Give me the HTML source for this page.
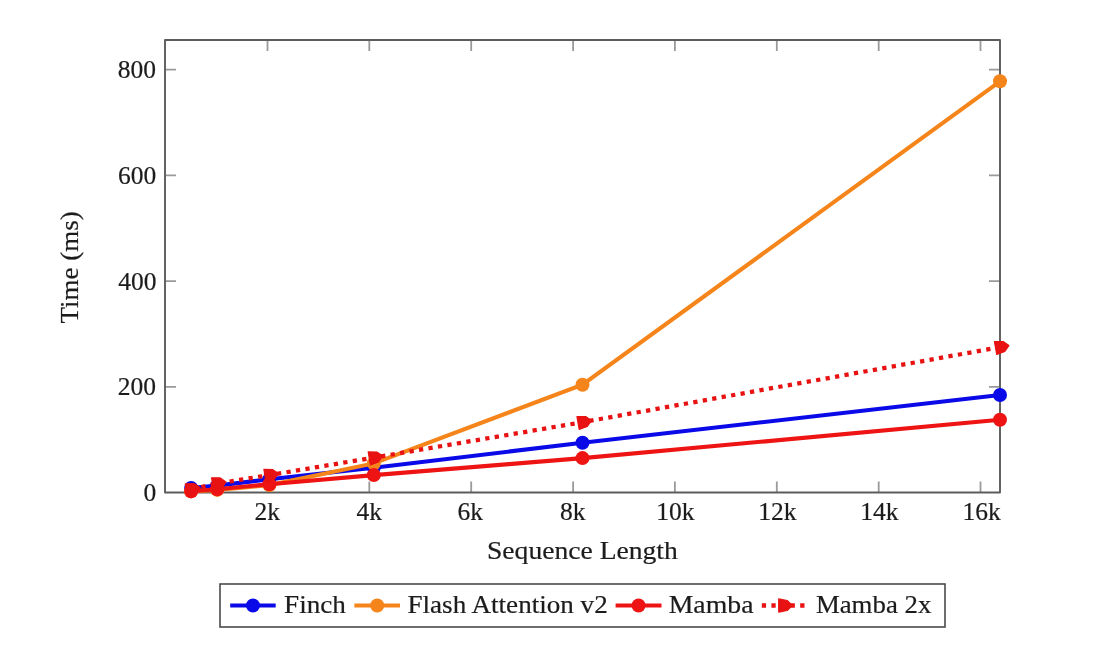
<!DOCTYPE html>
<html><head><meta charset="utf-8"><style>
html,body{margin:0;padding:0;background:#fff;width:1098px;height:659px;overflow:hidden}
svg{display:block;filter:blur(0.35px)}
text{font-family:"Liberation Serif",serif;fill:#1c1c1c;stroke:#1c1c1c;stroke-width:0.2px}
</style></head><body>
<svg width="1098" height="659" viewBox="0 0 1098 659">
<rect x="0" y="0" width="1098" height="659" fill="#fff"/>
<rect x="220" y="584" width="725" height="43" fill="#fff" stroke="#4a4a4a" stroke-width="1.6"/>
<path d="M267.5 492.5V481.5M267.5 40.0V51.0M369.3 492.5V481.5M369.3 40.0V51.0M471.2 492.5V481.5M471.2 40.0V51.0M573.1 492.5V481.5M573.1 40.0V51.0M674.9 492.5V481.5M674.9 40.0V51.0M776.8 492.5V481.5M776.8 40.0V51.0M878.7 492.5V481.5M878.7 40.0V51.0M980.5 492.5V481.5M980.5 40.0V51.0M165.0 386.8H176.0M1000.0 386.8H989.0M165.0 281.1H176.0M1000.0 281.1H989.0M165.0 175.4H176.0M1000.0 175.4H989.0M165.0 69.7H176.0M1000.0 69.7H989.0" stroke="#9a9a9a" stroke-width="1.8" fill="none"/>
<text x="254.47" y="519.70" font-size="25.5">2k</text>
<text x="356.53" y="519.70" font-size="25.5">4k</text>
<text x="457.60" y="519.70" font-size="25.5">6k</text>
<text x="560.06" y="519.80" font-size="25.5">8k</text>
<text x="656.13" y="519.50" font-size="25.5">10k</text>
<text x="758.30" y="519.80" font-size="25.5">12k</text>
<text x="860.16" y="519.80" font-size="25.5">14k</text>
<text x="962.43" y="519.90" font-size="25.5">16k</text>
<text x="143.45" y="501.20" font-size="25.5">0</text>
<text x="117.75" y="395.30" font-size="25.5">200</text>
<text x="118.35" y="289.60" font-size="25.5">400</text>
<text x="117.95" y="184.10" font-size="25.5">600</text>
<text x="117.85" y="77.60" font-size="25.5">800</text>
<text x="487.00" y="558.80" font-size="25" textLength="190.80" lengthAdjust="spacingAndGlyphs">Sequence Length</text>
<text transform="translate(77.90 323.50) rotate(-90)" x="0" y="0" font-size="25" textLength="112.30" lengthAdjust="spacingAndGlyphs">Time (ms)</text>
<text x="284.10" y="613.00" font-size="25" textLength="61.80" lengthAdjust="spacingAndGlyphs">Finch</text>
<text x="407.50" y="613.00" font-size="25" textLength="200.20" lengthAdjust="spacingAndGlyphs">Flash Attention v2</text>
<text x="668.70" y="612.80" font-size="25" textLength="84.80" lengthAdjust="spacingAndGlyphs">Mamba</text>
<text x="815.90" y="612.80" font-size="25" textLength="115.40" lengthAdjust="spacingAndGlyphs">Mamba 2x</text>
<rect x="165.0" y="40.0" width="835.0" height="452.5" fill="none" stroke="#5c5c5c" stroke-width="1.9" stroke-linejoin="round"/>
<polyline points="191.1,488.0 217.2,485.6 269.4,479.3 373.8,467.7 582.5,442.8 1000.0,395.0" fill="none" stroke="#0a0ae8" stroke-width="4.1"/>
<circle cx="191.1" cy="488.0" r="7" fill="#0a0ae8"/>
<circle cx="217.2" cy="485.6" r="7" fill="#0a0ae8"/>
<circle cx="269.4" cy="479.3" r="7" fill="#0a0ae8"/>
<circle cx="373.8" cy="467.7" r="7" fill="#0a0ae8"/>
<circle cx="582.5" cy="442.8" r="7" fill="#0a0ae8"/>
<circle cx="1000.0" cy="395.0" r="7" fill="#0a0ae8"/>
<polyline points="191.1,491.4 217.2,489.9 269.4,485.1 373.8,463.4 582.5,384.7 1000.0,81.3" fill="none" stroke="#f5851a" stroke-width="4.1"/>
<circle cx="191.1" cy="491.4" r="7" fill="#f5851a"/>
<circle cx="217.2" cy="489.9" r="7" fill="#f5851a"/>
<circle cx="269.4" cy="485.1" r="7" fill="#f5851a"/>
<circle cx="373.8" cy="463.4" r="7" fill="#f5851a"/>
<circle cx="582.5" cy="384.7" r="7" fill="#f5851a"/>
<circle cx="1000.0" cy="81.3" r="7" fill="#f5851a"/>
<polyline points="191.1,491.2 217.2,489.3 269.4,484.2 373.8,475.1 582.5,458.1 1000.0,419.8" fill="none" stroke="#ee1414" stroke-width="4.1"/>
<circle cx="191.1" cy="491.2" r="7" fill="#ee1414"/>
<circle cx="217.2" cy="489.3" r="7" fill="#ee1414"/>
<circle cx="269.4" cy="484.2" r="7" fill="#ee1414"/>
<circle cx="373.8" cy="475.1" r="7" fill="#ee1414"/>
<circle cx="582.5" cy="458.1" r="7" fill="#ee1414"/>
<circle cx="1000.0" cy="419.8" r="7" fill="#ee1414"/>
<polyline points="191.1,489.3 217.2,483.5 269.4,475.1 373.8,457.6 582.5,422.2 1000.0,347.2" fill="none" stroke="#e81212" stroke-dasharray="4.27 5.33" stroke-dashoffset="8.7" stroke-width="4.27"/>
<path d="M199.9 487.4 L193.9 483.6 L185.3 483.9 L188.1 496.7 L196.1 493.3Z" fill="#e81212" stroke="#e81212" stroke-width="1.2" stroke-linejoin="round"/>
<path d="M226.0 481.9 L220.2 477.9 L211.6 477.8 L213.9 490.8 L222.0 487.7Z" fill="#e81212" stroke="#e81212" stroke-width="1.2" stroke-linejoin="round"/>
<path d="M278.3 473.6 L272.5 469.5 L263.9 469.3 L266.0 482.3 L274.1 479.3Z" fill="#e81212" stroke="#e81212" stroke-width="1.2" stroke-linejoin="round"/>
<path d="M382.6 456.1 L376.9 452.0 L368.2 451.9 L370.4 464.9 L378.5 461.9Z" fill="#e81212" stroke="#e81212" stroke-width="1.2" stroke-linejoin="round"/>
<path d="M591.4 420.6 L585.6 416.6 L576.9 416.5 L579.2 429.5 L587.3 426.4Z" fill="#e81212" stroke="#e81212" stroke-width="1.2" stroke-linejoin="round"/>
<path d="M1008.9 345.6 L1003.1 341.5 L994.4 341.5 L996.7 354.5 L1004.8 351.4Z" fill="#e81212" stroke="#e81212" stroke-width="1.2" stroke-linejoin="round"/>
<line x1="230.2" y1="605.5" x2="275.7" y2="605.5" stroke="#0a0ae8" stroke-width="4.1"/>
<circle cx="252.95" cy="605.5" r="7" fill="#0a0ae8"/>
<line x1="354.4" y1="605.5" x2="400" y2="605.5" stroke="#f5851a" stroke-width="4.1"/>
<circle cx="377.2" cy="605.5" r="7" fill="#f5851a"/>
<line x1="615.6" y1="605.5" x2="661.5" y2="605.5" stroke="#ee1414" stroke-width="4.1"/>
<circle cx="638.55" cy="605.5" r="7" fill="#ee1414"/>
<line x1="761.8" y1="605.5" x2="804.6" y2="605.5" stroke="#e81212" stroke-dasharray="4.27 5.33" stroke-width="4.27"/>
<path d="M792.2 605.5 L787.2 600.5 L778.7 598.9 L778.7 612.1 L787.2 610.5Z" fill="#e81212" stroke="#e81212" stroke-width="1.2" stroke-linejoin="round"/>
</svg>
</body></html>
